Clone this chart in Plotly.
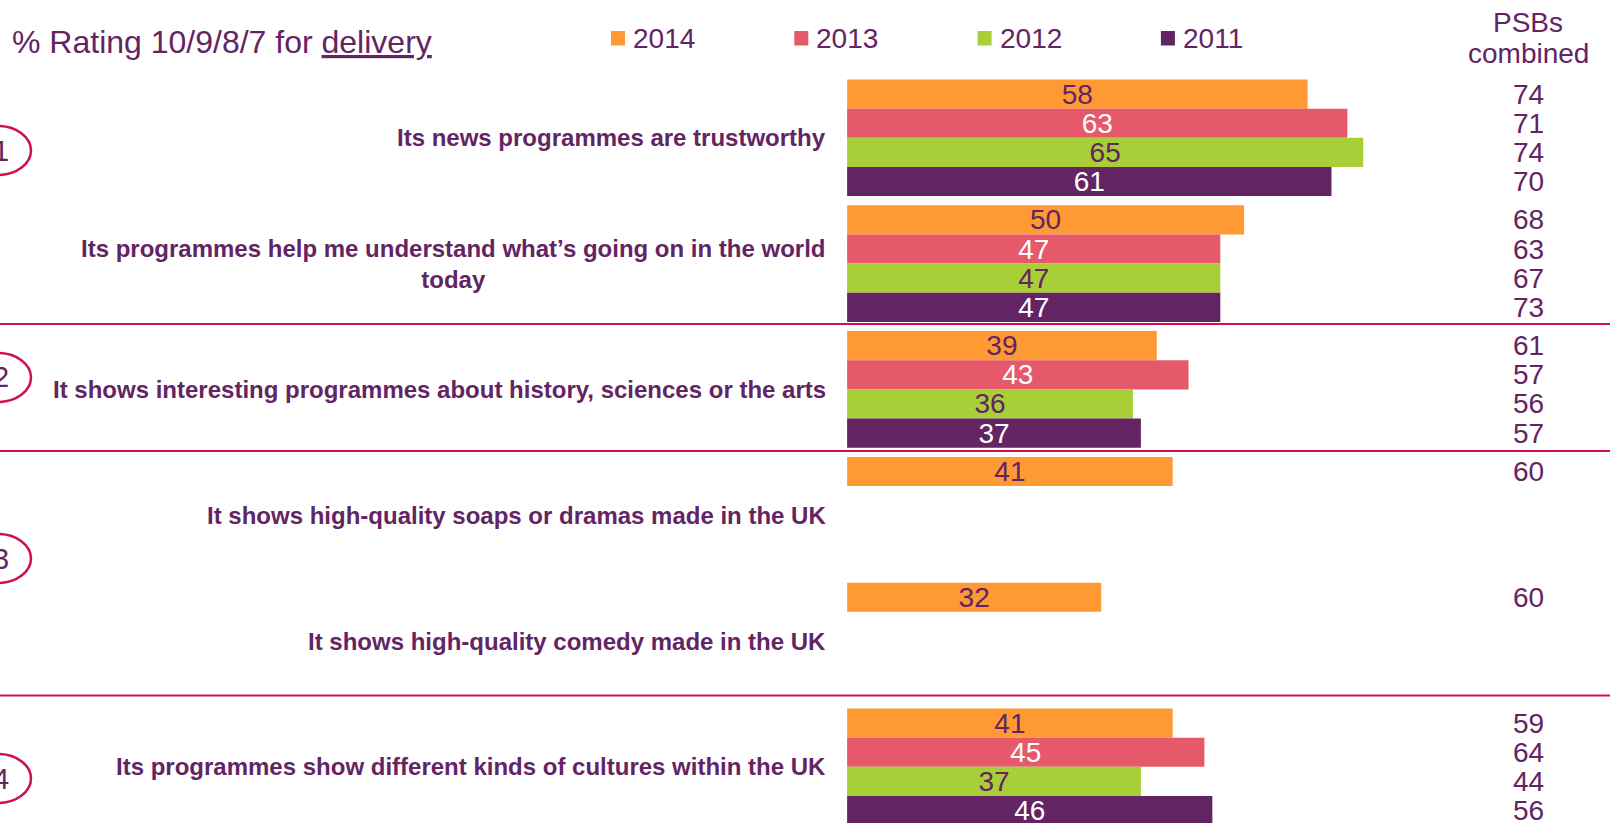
import plotly.graph_objects as go

# ---- data -------------------------------------------------------------
categories = [
    "Its news programmes are trustworthy",
    "Its programmes help me understand what’s going on in the world<br>today",
    "It shows interesting programmes about history, sciences or the arts",
    "It shows high-quality soaps or dramas made in the UK",
    "It shows high-quality comedy made in the UK",
    "Its programmes show different kinds of cultures within the UK",
]
years = ["2014", "2013", "2012", "2011"]

rating_2014 = [58, 50, 39, 41, 32, 41]
rating_2013 = [63, 47, 43, None, None, 45]
rating_2012 = [65, 47, 36, None, None, 37]
rating_2011 = [61, 47, 37, None, None, 46]

psb_2014 = [74, 68, 61, 60, 60, 59]
psb_2013 = [71, 63, 57, None, None, 64]
psb_2012 = [74, 67, 56, None, None, 44]
psb_2011 = [70, 73, 57, None, None, 56]

purpose_numbers = ["1", "2", "3", "4"]

title_text = "% Rating 10/9/8/7 for <u>delivery</u>"
psb_header = ["PSBs", "combined"]

# ---- styling ----------------------------------------------------------
W, H = 1610, 823
FONT = "Liberation Sans, Arial, sans-serif"
PURPLE = "#632463"
CRIMSON = "#CF0F4E"
bar_colors = ["#FF9933", "#E5596A", "#A8CE38", "#632463"]
label_colors = [PURPLE, "white", PURPLE, "white"]
BARGAP = 0.073
slot = (1 - BARGAP) / len(years)


def px(x):
    return x / W


def py(y):
    return 1 - y / H


ratings = [rating_2014, rating_2013, rating_2012, rating_2011]
psbs = [psb_2014, psb_2013, psb_2012, psb_2011]

fig = go.Figure()
for year, vals, col, tcol in zip(years, ratings, bar_colors, label_colors):
    fig.add_trace(go.Bar(
        y=categories,
        x=vals,
        orientation="h",
        name=year,
        marker=dict(color=col, line=dict(width=0)),
        text=["" if v is None else str(v) for v in vals],
        textposition="inside",
        insidetextanchor="middle",
        textangle=0,
        constraintext="none",
        textfont=dict(family=FONT, size=28, color=tcol),
        showlegend=False,
        hoverinfo="skip",
    ))

annotations = []
shapes = []

# title
annotations.append(dict(
    text=title_text, xref="paper", yref="paper", x=px(10), y=py(42),
    xanchor="left", yanchor="middle", showarrow=False,
    font=dict(family=FONT, size=32, color=PURPLE)))

# legend drawn as squares + year labels
for i, (year, col) in enumerate(zip(years, bar_colors)):
    left = 611 + i * 183.3
    shapes.append(dict(type="rect", xref="paper", yref="paper",
                       x0=px(left), x1=px(left + 14), y0=py(45.5), y1=py(31),
                       fillcolor=col, line=dict(width=0)))
    annotations.append(dict(
        text=year, xref="paper", yref="paper", x=px(left + 20), y=py(38.5),
        xanchor="left", yanchor="middle", showarrow=False,
        font=dict(family=FONT, size=28, color=PURPLE)))

# right-hand column header
for txt, yc in zip(psb_header, [22.5, 53.5]):
    annotations.append(dict(
        text=txt, xref="paper", yref="paper", x=px(1528), y=py(yc),
        xanchor="center", yanchor="middle", showarrow=False,
        font=dict(family=FONT, size=28, color=PURPLE)))

# category labels, right-aligned next to the bars
for ci, cat in enumerate(categories):
    annotations.append(dict(
        text="<b>" + cat + "</b>", xref="paper", yref="y", x=px(828), y=ci,
        xanchor="right", yanchor="middle", align="center", showarrow=False,
        font=dict(family=FONT, size=24, color=PURPLE)))

# PSBs combined values, one per bar slot
for k, series in enumerate(psbs):
    for ci, v in enumerate(series):
        if v is None:
            continue
        annotations.append(dict(
            text=str(v), xref="paper", yref="y", x=px(1528),
            y=ci + (k - 1.5) * slot,
            xanchor="center", yanchor="middle", showarrow=False,
            font=dict(family=FONT, size=28, color=PURPLE)))

# section dividers
for yl in [324, 451, 695.5]:
    shapes.append(dict(type="line", xref="paper", yref="paper",
                       x0=0, x1=1, y0=py(yl), y1=py(yl),
                       line=dict(color=CRIMSON, width=2)))

# numbered purpose ellipses at the left edge
for num, yc in zip(purpose_numbers, [150.5, 377.5, 558.5, 778.5]):
    shapes.append(dict(type="circle", xref="paper", yref="paper",
                       x0=px(-35), x1=px(31), y0=py(yc + 24.5), y1=py(yc - 24.5),
                       line=dict(color=CRIMSON, width=2.5)))
    annotations.append(dict(
        text=num, xref="paper", yref="paper", x=px(1), y=py(yc),
        xanchor="center", yanchor="middle", showarrow=False,
        font=dict(family=FONT, size=29, color=PURPLE)))

fig.update_layout(
    width=W, height=H,
    margin=dict(l=0, r=0, t=0, b=0, pad=0),
    paper_bgcolor="white", plot_bgcolor="white",
    barmode="group", bargap=BARGAP, bargroupgap=0,
    xaxis=dict(range=[-106.69, 96.08], visible=False, fixedrange=True),
    yaxis=dict(type="category", categoryorder="array", categoryarray=categories,
               range=[5.4467, -1.0954], visible=False, fixedrange=True),
    annotations=annotations,
    shapes=shapes,
    showlegend=False,
)

fig.write_html("out.html")
